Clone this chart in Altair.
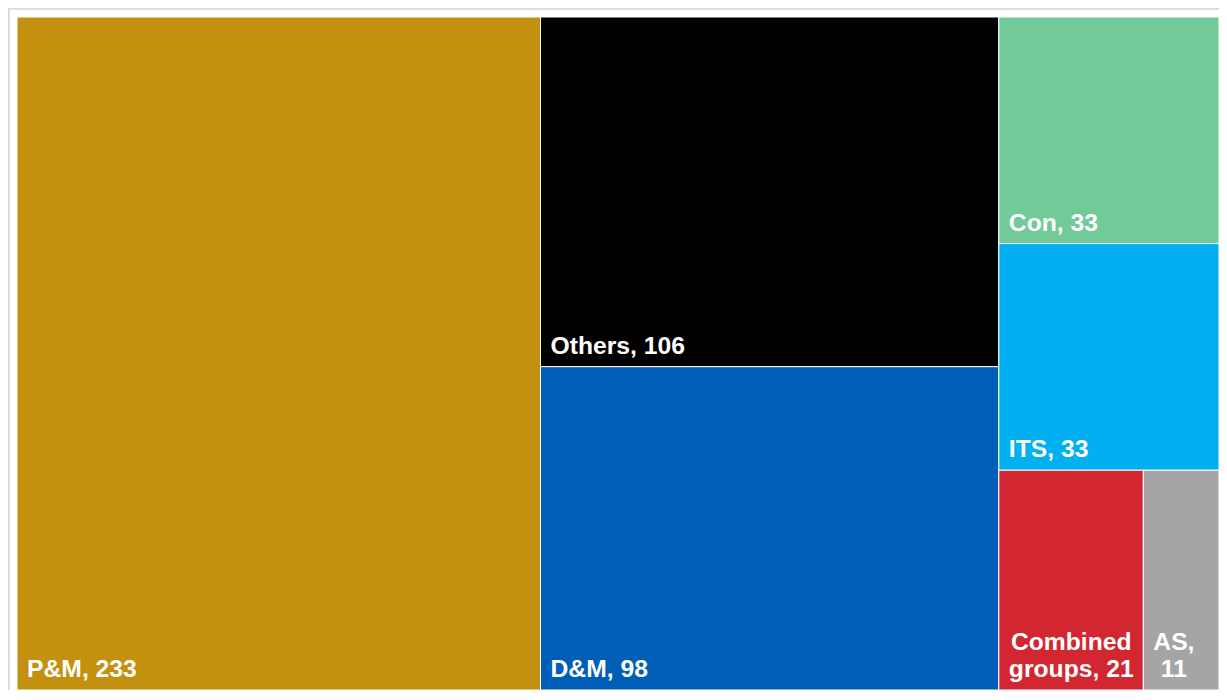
import altair as alt
import pandas as pd

# ---- data ----
categories = ["P&M", "Others", "D&M", "Con", "ITS", "Combined groups", "AS"]
values = [233, 106, 98, 33, 33, 21, 11]
colors = ["#C4900F", "#000000", "#005EB8", "#71CA97", "#00B0F0", "#D22630", "#A5A5A5"]

# ---- layout (squarified treemap) ----
W, H = 1202, 673
FONT_SIZE = 24.7
PAD_X = 10
PAD_BOTTOM = 13
LINE_H = 27
WRAP_INSET = 12

CHAR_W = {"P": 667, "&": 722, "M": 833, ",": 278, " ": 278, "O": 778, "t": 333,
          "h": 611, "e": 556, "r": 389, "s": 556, "D": 722, "C": 722, "o": 611,
          "n": 611, "I": 278, "T": 611, "S": 667, "m": 889, "b": 611, "i": 278,
          "d": 611, "g": 611, "u": 611, "p": 611, "A": 722}


def text_w(s):
    return sum(CHAR_W.get(c, 556 if c.isdigit() else 600) for c in s) * FONT_SIZE / 1000


def worst(row, side):
    s = sum(row)
    return max(max(side * side * r / (s * s), s * s / (side * side * r)) for r in row)


def squarify(vals, x, y, w, h):
    rects = []
    vals = list(vals)
    while vals:
        side = min(w, h)
        row = [vals[0]]
        i = 1
        while i < len(vals) and worst(row + [vals[i]], side) <= worst(row, side):
            row.append(vals[i])
            i += 1
        vals = vals[i:]
        s = sum(row)
        if w >= h:
            cw = s / h
            yy = y
            for r in row:
                rh = r / cw
                rects.append((x, yy, x + cw, yy + rh))
                yy += rh
            x += cw
            w -= cw
        else:
            rh = s / w
            xx = x
            for r in row:
                rw = r / rh
                rects.append((xx, y, xx + rw, y + rh))
                xx += rw
            y += rh
            h -= rh
    return rects


total = sum(values)
areas = [v * W * H / total for v in values]
rects = squarify(areas, 0, 0, W, H)

rect_rows, label_rows = [], []
for cat, val, col, (x0, y0, x1, y1) in zip(categories, values, colors, rects):
    rect_rows.append({"cat": cat, "x0": x0, "y0": y0, "x1": x1, "y1": y1, "color": col})
    words = f"{cat}, {val}".split(" ")
    avail = (x1 - x0) - WRAP_INSET
    lines, cur = [], ""
    for wd in words:
        cand = (cur + " " + wd).strip()
        if cur and text_w(cand) > avail:
            lines.append(cur)
            cur = wd
        else:
            cur = cand
    lines.append(cur)
    maxw = max(text_w(l) for l in lines)
    cx = x0 + PAD_X + maxw / 2
    n = len(lines)
    for i, l in enumerate(lines):
        label_rows.append({"cat": cat, "line": l, "lx": cx,
                           "ly": y1 - PAD_BOTTOM - (n - 1 - i) * LINE_H})

rdf = pd.DataFrame(rect_rows)
ldf = pd.DataFrame(label_rows)

xs = alt.Scale(domain=[0, W], nice=False, zero=False)
ys = alt.Scale(domain=[0, H], nice=False, zero=False, reverse=True)

rects_chart = alt.Chart(rdf).mark_rect(stroke="white", strokeWidth=1).encode(
    x=alt.X("x0:Q", scale=xs, axis=None),
    x2="x1:Q",
    y=alt.Y("y0:Q", scale=ys, axis=None),
    y2="y1:Q",
    color=alt.Color("cat:N", scale=alt.Scale(domain=categories, range=colors), legend=None),
)

labels = alt.Chart(ldf).mark_text(
    color="white", font="Liberation Sans", fontSize=FONT_SIZE, fontWeight="bold",
    align="center", baseline="alphabetic"
).encode(
    x=alt.X("lx:Q", scale=xs, axis=None),
    y=alt.Y("ly:Q", scale=ys, axis=None),
    text="line:N",
)

frame_top = alt.Chart(rdf).mark_rule(color="#D9D9D9", strokeWidth=1.5).encode(
    x=alt.value(-9), x2=alt.value(W + 9), y=alt.value(-8.5)
)
frame_left = alt.Chart(rdf).mark_rule(color="#D9D9D9", strokeWidth=1.5).encode(
    x=alt.value(-8.5), y=alt.value(-9), y2=alt.value(H + 10)
)

chart = alt.layer(frame_top, frame_left, rects_chart, labels).properties(
    width=W, height=H,
    padding={"left": 9, "top": 9, "right": 0, "bottom": 0},
    autosize=alt.AutoSizeParams(type="none"),
    background="white",
).configure_view(strokeWidth=0)

chart.save("out.html", embed_options={"renderer": "svg", "actions": False})
